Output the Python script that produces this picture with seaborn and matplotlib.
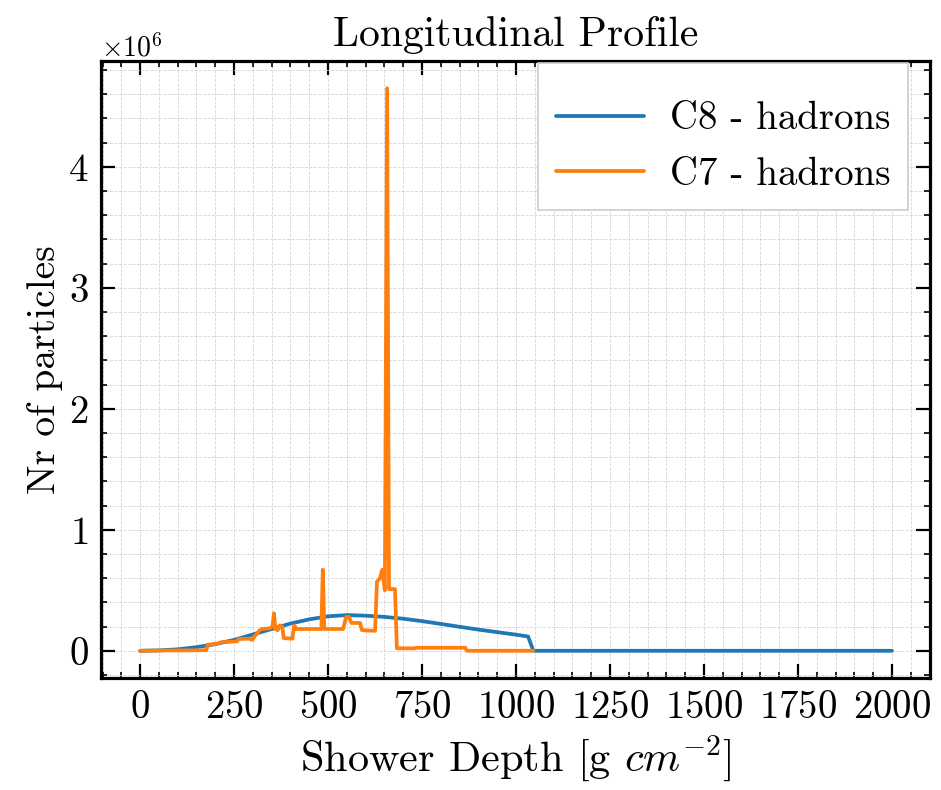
import numpy as np
import pandas as pd
import matplotlib
matplotlib.use("Agg")
import matplotlib.pyplot as plt
from matplotlib.ticker import MultipleLocator
import seaborn as sns

# ---- data (y in millions of particles) ----
c8_depth = [0, 50, 100, 150, 200, 250, 300, 350, 400, 450, 500, 550, 600, 650,
            700, 750, 800, 850, 900, 950, 1000, 1032, 1046, 1500, 2000]
c8_million = [0.0, 0.003, 0.012, 0.03, 0.055, 0.09, 0.135, 0.18, 0.225, 0.26,
              0.285, 0.295, 0.29, 0.28, 0.265, 0.245, 0.222, 0.198, 0.175, 0.154,
              0.133, 0.118, 0.0, 0.0, 0.0]

c7_depth = [0, 50, 100, 150, 176, 180, 205, 215, 240, 258, 262, 290, 298, 305,
            318, 325, 345, 352, 356, 360, 366, 372, 378, 382, 405, 410, 416,
            482, 486, 490, 540, 548, 556, 562, 585, 590, 625, 630, 638, 644,
            651, 657, 662, 678, 683, 730, 735, 865, 869, 1000, 1046]
c7_million = [0.0, 0.002, 0.003, 0.004, 0.005, 0.05, 0.058, 0.07, 0.075, 0.078,
              0.097, 0.1, 0.09, 0.12, 0.17, 0.18, 0.185, 0.2, 0.31, 0.18, 0.17,
              0.21, 0.2, 0.105, 0.1, 0.21, 0.18, 0.18, 0.67, 0.18, 0.18, 0.28,
              0.28, 0.23, 0.23, 0.17, 0.165, 0.57, 0.6, 0.67, 0.5, 4.65, 0.51,
              0.51, 0.02, 0.02, 0.025, 0.025, 0.0, 0.0, 0.0]

series_names = ["C8 - hadrons", "C7 - hadrons"]
series_colors = ["#1f77b4", "#ff7f0e"]

df = pd.concat([
    pd.DataFrame({"depth": c8_depth, "n": np.array(c8_million) * 1e6, "series": series_names[0]}),
    pd.DataFrame({"depth": c7_depth, "n": np.array(c7_million) * 1e6, "series": series_names[1]}),
], ignore_index=True)

sns.set_style("ticks")
plt.rcParams.update({
    "font.family": "serif",
    "font.serif": ["cmr10"],
    "mathtext.fontset": "cm",
    "axes.formatter.use_mathtext": True,
    "axes.unicode_minus": False,
    "text.color": "black",
    "axes.labelcolor": "black",
    "xtick.color": "black",
    "ytick.color": "black",
})

fig = plt.figure(figsize=(9.41, 7.9), dpi=100)
ax = fig.add_axes([101 / 941, 1 - 678 / 790, (930 - 101) / 941, (678 - 61) / 790])

sns.lineplot(data=df, x="depth", y="n", hue="series", palette=series_colors,
             hue_order=series_names, linewidth=2.7, ax=ax, estimator=None,
             sort=False, legend=True)

ax.xaxis.set_major_locator(MultipleLocator(250))
ax.xaxis.set_minor_locator(MultipleLocator(50))
ax.yaxis.set_major_locator(MultipleLocator(1e6))
ax.yaxis.set_minor_locator(MultipleLocator(0.2e6))
ax.set_xlim(-104, 2101)
ax.set_ylim(-0.225e6, 4.875e6)

ax.grid(True, which="both", linestyle="--", linewidth=0.6, color="#d4d4d4")
ax.set_axisbelow(True)

for s in ax.spines.values():
    s.set_linewidth(2.3)
    s.set_color("black")
ax.tick_params(which="both", direction="in", top=True, right=True, colors="black")
ax.tick_params(which="major", length=10, width=1.6, labelsize=28, pad=9)
ax.tick_params(which="minor", length=4.5, width=1.2)
ax.yaxis.get_offset_text().set_fontsize(20)
ax.yaxis.get_offset_text().set_color("black")

ax.set_title("Longitudinal Profile", fontsize=30, pad=11, color="black")
ax.set_xlabel(r"Shower Depth [g $cm^{-2}$]", fontsize=30.5, labelpad=5, color="black")
ax.set_ylabel("Nr of particles", fontsize=28.5, labelpad=4, color="black")

leg = ax.legend(loc="upper right", bbox_to_anchor=((908 - 101) / 829, (678 - 63) / 617),
                borderaxespad=0, fontsize=28, frameon=True, fancybox=False,
                edgecolor="#cccccc", framealpha=1.0, handlelength=2.27,
                handletextpad=0.67, labelspacing=0.5, borderpad=0.45,
                title=" ", title_fontsize=1)
leg.get_frame().set_linewidth(1.2)
for t in leg.get_texts():
    t.set_color("black")

fig.savefig("out.png", dpi=100)
